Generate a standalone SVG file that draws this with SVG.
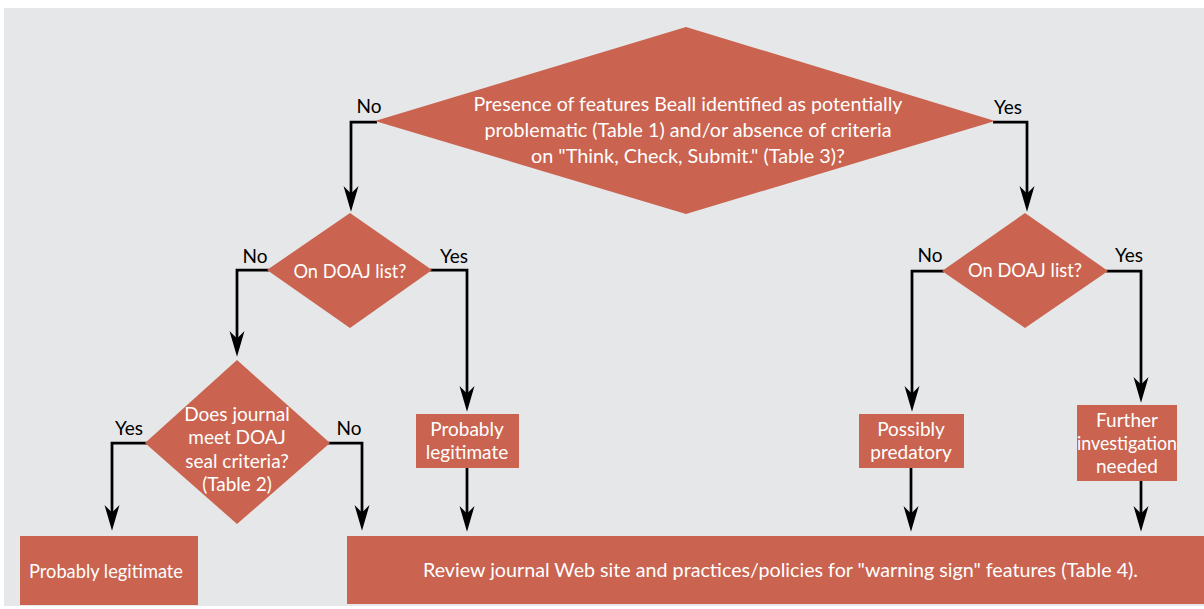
<svg xmlns="http://www.w3.org/2000/svg" width="1204" height="609" viewBox="0 0 1204 609">
<style>
.shape{fill:#ca634f}
.t{font-family:Lato,"Liberation Sans",sans-serif;font-size:19px;fill:#ffffff;text-anchor:middle}
.lbl{font-family:Lato,"Liberation Sans",sans-serif;font-size:19px;fill:#000000;text-anchor:middle}
.c{fill:none;stroke:#000000;stroke-width:2.75;marker-end:url(#ah)}
</style>
<defs>
<marker id="ah" markerUnits="userSpaceOnUse" orient="auto" markerWidth="30" markerHeight="20" refX="0" refY="0" viewBox="-16 -9 28 18" overflow="visible">
<path d="M10,0 L-14,-7 L-7,0 L-14,7 Z" fill="#000000"/>
</marker>
</defs>
<rect x="4" y="8" width="1200" height="598" fill="#e6e7e8"/>
<g id="connectors">
<path class="c" d="M377,122 H351 V201"/>
<path class="c" d="M993,122 H1027 V201"/>
<path class="c" d="M269,270 H237 V346"/>
<path class="c" d="M430,270 H467 V401"/>
<path class="c" d="M147,443 H112 V520"/>
<path class="c" d="M328,443 H362 V520"/>
<path class="c" d="M467,468 V521"/>
<path class="c" d="M944,271 H912 V401"/>
<path class="c" d="M1106,271 H1141 V392"/>
<path class="c" d="M911,468 V521"/>
<path class="c" d="M1141,481 V521"/>
</g>
<g id="labels">
<text class="lbl" x="369" y="113">No</text>
<text class="lbl" x="1008" y="114">Yes</text>
<text class="lbl" x="255" y="263">No</text>
<text class="lbl" x="454" y="263">Yes</text>
<text class="lbl" x="930" y="262">No</text>
<text class="lbl" x="1129" y="262">Yes</text>
<text class="lbl" x="129" y="435">Yes</text>
<text class="lbl" x="349" y="435">No</text>
</g>
<g id="n-presence">
<polygon class="shape" points="375,121 686,27 995,121 686,214"/>
<text class="t" x="688" y="111" textLength="429" lengthAdjust="spacingAndGlyphs">Presence of features Beall identified as potentially</text>
<text class="t" x="688" y="137" textLength="407" lengthAdjust="spacingAndGlyphs">problematic (Table 1) and/or absence of criteria</text>
<text class="t" x="688" y="163" textLength="314" lengthAdjust="spacingAndGlyphs">on "Think, Check, Submit." (Table 3)?</text>
</g>
<g id="n-doaj-left">
<polygon class="shape" points="267,270 350,213 432,270 350,328"/>
<text class="t" x="350" y="278" textLength="113" lengthAdjust="spacingAndGlyphs">On DOAJ list?</text>
</g>
<g id="n-doaj-right">
<polygon class="shape" points="942,271 1025,213 1108,271 1025,328"/>
<text class="t" x="1025" y="277" textLength="114" lengthAdjust="spacingAndGlyphs">On DOAJ list?</text>
</g>
<g id="n-seal">
<polygon class="shape" points="145,443 237,360 330,443 237,524"/>
<text class="t" x="237" y="421">Does journal</text>
<text class="t" x="237" y="444">meet DOAJ</text>
<text class="t" x="237" y="468">seal criteria?</text>
<text class="t" x="237" y="491">(Table 2)</text>
</g>
<g id="n-legit-left">
<rect class="shape" x="20" y="536" width="178" height="69"/>
<text class="t" x="106" y="578" textLength="154" lengthAdjust="spacingAndGlyphs">Probably legitimate</text>
</g>
<g id="n-legit-mid">
<rect class="shape" x="416" y="414" width="103" height="54"/>
<text class="t" x="467" y="436">Probably</text>
<text class="t" x="467" y="459">legitimate</text>
</g>
<g id="n-predatory">
<rect class="shape" x="859" y="414" width="105" height="54"/>
<text class="t" x="911" y="436">Possibly</text>
<text class="t" x="911" y="459">predatory</text>
</g>
<g id="n-further">
<rect class="shape" x="1077" y="405" width="100" height="76"/>
<text class="t" x="1127" y="427">Further</text>
<text class="t" x="1127" y="450" textLength="100" lengthAdjust="spacingAndGlyphs">investigation</text>
<text class="t" x="1127" y="473">needed</text>
</g>
<g id="n-review">
<rect class="shape" x="347" y="536" width="857" height="68"/>
<text class="t" x="780.5" y="577" textLength="715" lengthAdjust="spacingAndGlyphs">Review journal Web site and practices/policies for "warning sign" features (Table 4).</text>
</g>
</svg>
